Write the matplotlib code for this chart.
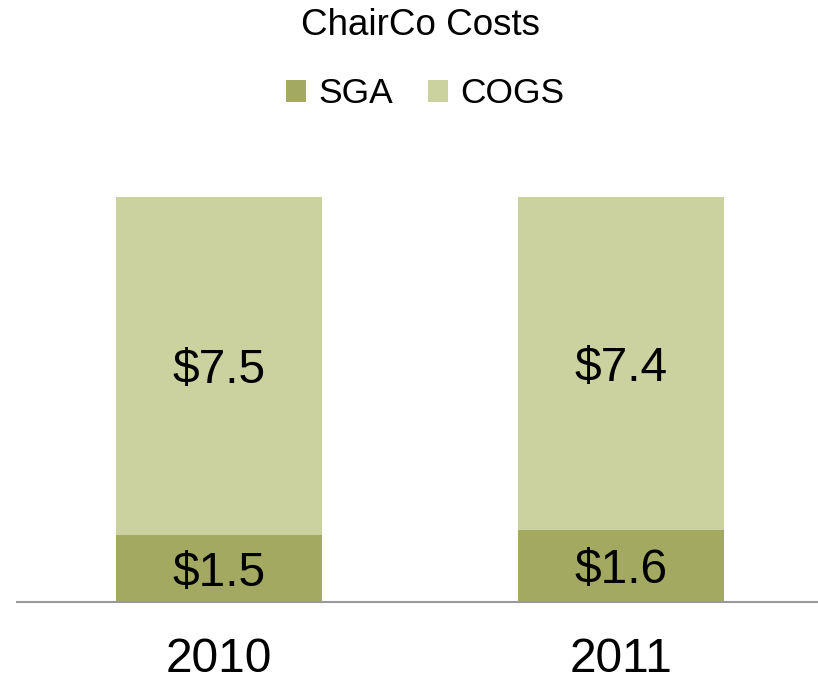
import matplotlib
matplotlib.use("Agg")
import matplotlib.pyplot as plt
from matplotlib.patches import Patch

plt.rcParams['font.family'] = ['Liberation Sans', 'DejaVu Sans']

years = ["2010", "2011"]
sga = [1.5, 1.6]
cogs = [7.5, 7.4]
series_names = ["SGA", "COGS"]
title = "ChairCo Costs"

sga_color = "#A4A962"
cogs_color = "#CBD2A0"

fig = plt.figure(figsize=(8.18, 6.79), dpi=100)
ax = fig.add_axes([17 / 818, 77 / 679, 801 / 818, 405 / 679])

x = list(range(len(years)))
width = 0.512
ax.bar(x, sga, width=width, color=sga_color, zorder=2)
ax.bar(x, cogs, width=width, bottom=sga, color=cogs_color, zorder=2)

for xi, s, c in zip(x, sga, cogs):
    ax.text(xi, s / 2, f"${s:.1f}", ha="center", va="center_baseline", fontsize=34.5, color="black")
    ax.text(xi, s + c / 2, f"${c:.1f}", ha="center", va="center_baseline", fontsize=34.5, color="black")

ax.set_xlim(-0.502, 1.49)
ax.set_ylim(0, 9.0)
ax.set_xticks(x)
ax.set_xticklabels(years, fontsize=34.5)
ax.tick_params(axis="x", length=0, pad=25)
ax.set_yticks([])
for side in ("left", "top", "right"):
    ax.spines[side].set_visible(False)
ax.spines["bottom"].set_color("#999999")
ax.spines["bottom"].set_linewidth(1.5)
ax.spines["bottom"].set_zorder(3)

fig.text(0.514, 0.962, title, ha="center", va="center", fontsize=26.5)

handles = [Patch(facecolor=sga_color), Patch(facecolor=cogs_color)]
fig.legend(handles, series_names, loc="center", bbox_to_anchor=(0.52, 0.8616),
           ncol=2, frameon=False, fontsize=25.5, handlelength=0.55, handleheight=0.55,
           handletextpad=0.35, columnspacing=1.0)

fig.savefig("out.png", dpi=100)
